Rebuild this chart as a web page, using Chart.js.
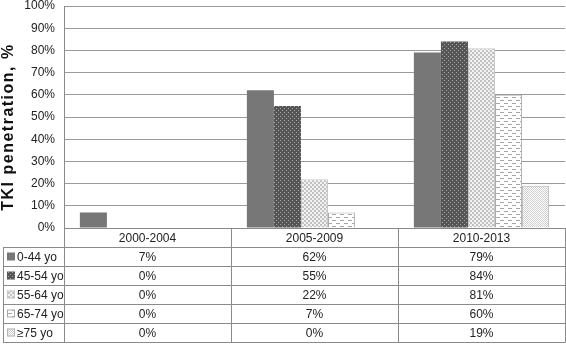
<!DOCTYPE html>
<html>
<head>
<meta charset="UTF-8">
<script src="https://cdn.jsdelivr.net/npm/chart.js"></script>
<style>
  html, body { margin: 0; padding: 0; background: #fff; }
  #wrap { width: 566px; height: 345px; }
</style>
</head>
<body>
<div id="wrap"><canvas id="c" width="566" height="345"></canvas></div>
<script>
// data
const categories = ['2000-2004', '2005-2009', '2010-2013'];
const groupLabels = ['0-44 yo', '45-54 yo', '55-64 yo', '65-74 yo', '\u226575 yo'];
const age0044 = [7, 62, 79];
const age4554 = [0, 55, 84];
const age5564 = [0, 22, 81];
const age6574 = [0, 7, 60];
const age75 = [0, 0, 19];
const yTickStep = 10;
const yTitle = 'TKI penetration, %';

const FONT = '"Liberation Sans", Arial, sans-serif';

// little tiles for the fill patterns
function makeTile(w, h, draw) {
    const cv = document.createElement('canvas');
    cv.width = w; cv.height = h;
    const g = cv.getContext('2d');
    draw(g);
    return document.getElementById('c').getContext('2d').createPattern(cv, 'repeat');
}
function px(g, col, pts) {
    g.fillStyle = col;
    pts.forEach(p => g.fillRect(p[0], p[1], 1, 1));
}

const fills = [
    '#777777',
    makeTile(4, 4, g => {
        g.fillStyle = '#555'; g.fillRect(0, 0, 4, 4);
        px(g, '#a8a8a8', [[0, 0], [2, 2]]);
    }),
    makeTile(4, 4, g => {
        g.fillStyle = '#f2f2f2'; g.fillRect(0, 0, 4, 4);
        g.fillStyle = '#c2c2c2'; g.fillRect(0, 0, 2, 2); g.fillRect(2, 2, 2, 2);
    }),
    makeTile(8, 6, g => {
        g.fillStyle = '#fff'; g.fillRect(0, 0, 8, 6);
        g.fillStyle = '#a6a6a6'; g.fillRect(0, 1, 4, 1); g.fillRect(4, 4, 4, 1);
    }),
    makeTile(2, 2, g => {
        g.fillStyle = '#fff'; g.fillRect(0, 0, 2, 2);
        px(g, '#cfcfcf', [[0, 0], [1, 1]]);
    })
];
const borders = ['#777777', '#555555', '#c8c8c8', '#aaaaaa', '#b4b4b4'];
const seriesData = [age0044, age4554, age5564, age6574, age75];

const datasets = seriesData.map((d, i) => ({
    label: groupLabels[i],
    data: d,
    backgroundColor: fills[i],
    borderColor: borders[i],
    borderWidth: i >= 2 ? 1 : 0,
    categoryPercentage: 0.81,
    barPercentage: 1.0
}));

// y title drawn by hand, it is spaced out in the original
const titlePlugin = {
    id: 'yTitle',
    afterDraw(chart) {
        const ctx = chart.ctx;
        ctx.save();
        ctx.translate(9, 127);
        ctx.rotate(-Math.PI / 2);
        ctx.font = 'bold 16px ' + FONT;
        ctx.letterSpacing = '1.5px';
        ctx.fillStyle = '#111';
        ctx.textAlign = 'center';
        ctx.textBaseline = 'middle';
        ctx.fillText(yTitle, 0, 0);
        ctx.restore();
    }
};

// data table under the plot, using the x scale columns
const tablePlugin = {
    id: 'dataTable',
    afterDraw(chart) {
        const ctx = chart.ctx;
        const a = chart.chartArea;
        const n = categories.length;
        const colW = (a.right - a.left) / n;
        const top = a.bottom;
        const headH = 19, rowH = 19;
        const tLeft = 3;
        const bottom = top + headH + rowH * groupLabels.length;

        ctx.save();
        ctx.strokeStyle = '#8a8a8a';
        ctx.lineWidth = 1;
        ctx.beginPath();
        // horizontal lines
        ctx.moveTo(a.left, top + 0.5); ctx.lineTo(a.right, top + 0.5);
        for (let r = 0; r <= groupLabels.length; r++) {
            const y = Math.round(top + headH + r * rowH) + 0.5;
            ctx.moveTo(tLeft, y); ctx.lineTo(a.right, y);
        }
        // vertical lines
        ctx.moveTo(tLeft + 0.5, top + headH); ctx.lineTo(tLeft + 0.5, bottom + 0.5);
        for (let k = 0; k <= n; k++) {
            const x = Math.round(a.left + k * colW) + 0.5;
            ctx.moveTo(x, top); ctx.lineTo(x, bottom + 0.5);
        }
        ctx.stroke();

        ctx.fillStyle = '#222';
        ctx.font = '12px ' + FONT;
        ctx.textAlign = 'center';
        ctx.textBaseline = 'middle';
        categories.forEach((c, k) => {
            ctx.fillText(c, chart.scales.x.getPixelForValue(k), top + headH / 2 + 1);
        });
        seriesData.forEach((d, i) => {
            const cy = top + headH + i * rowH + rowH / 2 + 1;
            d.forEach((v, k) => {
                ctx.fillText(v + '%', chart.scales.x.getPixelForValue(k), cy);
            });
            // legend key
            ctx.fillStyle = fills[i];
            ctx.fillRect(7, cy - 5, 8, 8);
            if (i >= 2) {
                ctx.strokeStyle = borders[i];
                ctx.strokeRect(7.5, cy - 4.5, 7, 7);
            }
            ctx.fillStyle = '#222';
            ctx.textAlign = 'left';
            ctx.fillText(groupLabels[i], 17, cy);
            ctx.textAlign = 'center';
        });
        ctx.restore();
    }
};

new Chart(document.getElementById('c'), {
    type: 'bar',
    data: { labels: categories, datasets: datasets },
    options: {
        responsive: false,
        animation: false,
        layout: { padding: { top: 6, right: 1, bottom: 117, left: 0 } },
        plugins: {
            legend: { display: false },
            tooltip: { enabled: false }
        },
        scales: {
            x: { display: false },
            y: {
                min: 0,
                max: 100,
                afterFit(scale) {
                    scale.width = 64;
                    scale.paddingTop = 0;
                    scale.paddingBottom = 0;
                },
                ticks: {
                    stepSize: yTickStep,
                    padding: 9,
                    color: '#222',
                    font: { family: FONT, size: 12 },
                    callback: v => v + '%'
                },
                grid: { color: '#9a9a9a', drawTicks: false },
                border: { display: true, color: '#8a8a8a' },
                title: { display: false }
            }
        }
    },
    plugins: [tablePlugin, titlePlugin]
});
</script>
</body>
</html>
